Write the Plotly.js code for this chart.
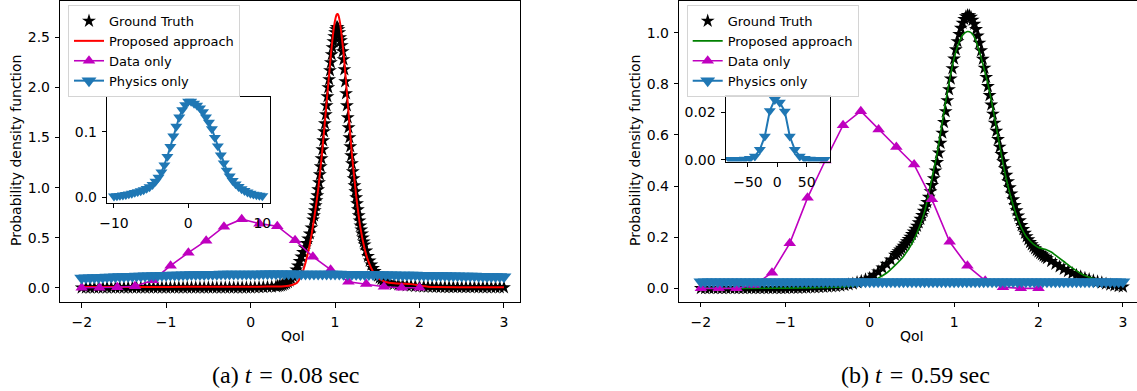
<!DOCTYPE html>
<html>
<head>
<meta charset="utf-8">
<script src="https://cdn.plot.ly/plotly-3.0.1.min.js"></script>
<style>
html,body{margin:0;padding:0;background:#fff;}
#chart{width:1137px;height:391px;}
</style>
</head>
<body>
<div id="chart"></div>
<script>
// ---------------- DATA ----------------
// Panel (a) t = 0.08 sec
var gtAx = [
-2.00,-1.95,-1.90,-1.85,-1.80,-1.75,-1.70,-1.65,-1.60,-1.55,-1.50,-1.45,-1.40,-1.35,-1.30,-1.25,-1.20,-1.15,-1.10,-1.05,
-1.00,-0.95,-0.90,-0.85,-0.80,-0.75,-0.70,-0.65,-0.60,-0.55,-0.50,-0.45,-0.40,-0.35,-0.30,-0.25,-0.20,-0.15,-0.10,-0.05,
0.00,0.05,0.10,0.15,0.20,0.25,0.30,
0.32,0.34,0.36,0.38,0.40,0.42,0.44,0.46,0.48,0.50,0.52,0.54,0.56,0.58,0.60,0.62,0.64,0.66,0.68,0.70,0.72,0.74,
0.75,0.76,0.77,0.78,0.79,0.80,0.81,0.82,0.83,0.84,0.85,0.86,0.87,0.88,0.89,0.90,0.91,0.92,0.93,0.94,
0.95,0.96,0.97,0.98,0.99,1.00,1.01,1.02,1.03,1.04,1.05,1.06,1.07,1.08,1.09,1.10,1.11,1.12,1.13,1.14,
1.15,1.16,1.17,1.18,1.19,1.20,1.21,1.22,1.23,1.24,1.25,1.26,1.27,1.28,1.29,1.30,1.31,1.32,1.33,1.34,1.35,
1.37,1.39,1.41,1.43,1.45,1.47,1.49,1.51,1.53,1.55,1.57,1.59,1.61,
1.65,1.70,1.75,1.80,1.85,1.90,1.95,2.00,2.05,2.10,2.15,2.20,2.25,2.30,2.35,2.40,2.45,2.50,2.55,2.60,
2.65,2.70,2.75,2.80,2.85,2.90,2.95,3.00];
var gtAy = [
0,0,0,0,0,0,0,0,0,0,0,0,0,0,0,0,0,0,0,0,
0,0,0,0,0,0,0,0,0,0,0,0,0,0,0,0,0,0,0,0,
0,0.002,0.003,0.005,0.007,0.009,0.012,
0.015,0.018,0.022,0.027,0.035,0.044,0.055,0.070,0.090,0.115,0.145,0.180,0.220,0.265,0.310,0.355,0.400,0.445,0.490,0.540,0.600,0.680,
0.72,0.77,0.82,0.87,0.92,0.98,1.05,1.13,1.21,1.29,1.38,1.47,1.56,1.64,1.73,1.82,1.91,2.00,2.08,2.17,
2.25,2.33,2.40,2.46,2.51,2.55,2.58,2.60,2.60,2.58,2.55,2.50,2.47,2.42,2.36,2.28,2.18,2.06,1.94,1.82,
1.70,1.60,1.50,1.41,1.32,1.24,1.16,1.09,1.02,0.96,0.90,0.84,0.78,0.72,0.67,0.62,0.58,0.54,0.50,0.46,0.43,
0.37,0.315,0.27,0.23,0.195,0.165,0.14,0.118,0.10,0.085,0.072,0.062,0.054,
0.045,0.037,0.031,0.026,0.022,0.018,0.015,0.012,0.010,0.008,0.007,0.006,0.005,0.005,0.004,0.004,0.004,0.003,0.003,0.003,
0.003,0.002,0.002,0.002,0.002,0.002,0.002,0.002];

var propAx = [-2,-1.5,-1,-0.5,0,0.2,0.3,0.4,0.45,0.5,0.55,0.6,0.65,0.7,0.75,0.8,0.85,0.9,0.95,0.98,
1.0,1.02,1.03,1.04,1.06,1.08,1.1,1.15,1.2,1.25,1.3,1.35,1.4,1.45,1.5,1.55,1.6,1.7,1.8,1.9,2.0,2.1,2.2,2.5,3.0];
var propAy = [0.008,0.008,0.008,0.009,0.01,0.011,0.012,0.015,0.02,0.03,0.05,0.12,0.25,0.43,0.68,0.98,1.38,1.85,2.32,2.56,
2.67,2.73,2.735,2.72,2.64,2.5,2.35,1.85,1.33,0.92,0.6,0.39,0.25,0.16,0.105,0.075,0.058,0.045,0.04,0.036,0.022,0.01,0.006,0.005,0.005];

// Data only: 20 points evenly spaced from -2 to 2
var dataAy = [0.0,0.0,0.005,0.015,0.075,0.22,0.35,0.47,0.61,0.685,0.64,0.615,0.475,0.31,0.18,0.06,0.037,0.01,0.0,0.0];

// Physics only (main panel): -2 to 3, step 0.05
var physAy = [
0.097,0.099,0.100,0.102,0.103,0.105,0.106,0.108,0.109,0.111,0.112,0.114,0.115,0.116,0.118,0.119,0.120,0.121,0.123,0.124,0.125,
0.126,0.127,0.128,0.129,0.130,0.131,0.132,0.133,0.133,0.134,0.135,0.135,0.136,0.136,0.137,0.137,0.137,0.138,0.138,0.138,
0.138,0.138,0.139,0.139,0.139,0.139,0.139,0.139,0.139,0.139,0.138,0.138,0.138,0.138,0.138,0.137,0.137,0.137,0.136,0.136,
0.136,0.135,0.135,0.134,0.134,0.133,0.133,0.132,0.132,0.131,
0.131,0.130,0.130,0.129,0.128,0.128,0.127,0.126,0.126,0.125,0.124,0.124,0.123,0.122,0.122,0.121,0.120,0.119,0.119,0.118,
0.117,0.116,0.116,0.115,0.114,0.113,0.113,0.112,0.111,0.110];

// Physics only (inset a): -10 to 10, step 0.4
var physInsetAy = [
0.0015,0.0018,0.0024,0.0030,0.0037,0.0046,0.0057,0.0069,0.0082,0.0095,
0.011,0.013,0.0155,0.019,0.024,0.030,0.038,0.049,0.062,0.077,
0.093,0.108,0.122,0.133,0.141,0.146,0.146,0.143,0.140,0.136,
0.130,0.122,0.114,0.104,0.091,0.078,0.064,0.052,0.041,0.032,
0.025,0.020,0.016,0.0125,0.0098,0.0075,0.0057,0.0043,0.0033,0.0025,0.0019];

// Panel (b) t = 0.59 sec
var gtBx = [
-2.00,-1.95,-1.90,-1.85,-1.80,-1.75,-1.70,-1.65,-1.60,-1.55,-1.50,-1.45,-1.40,-1.35,-1.30,-1.25,-1.20,-1.15,-1.10,-1.05,
-1.00,-0.95,-0.90,-0.85,-0.80,-0.75,-0.70,-0.65,-0.60,-0.55,-0.50,-0.45,-0.40,-0.35,-0.30,-0.25,-0.20,-0.15,-0.10,-0.05,
0.00,0.05,0.10,0.15,0.20,0.25,0.30,
0.32,0.34,0.36,0.38,0.40,0.42,0.44,0.46,0.48,0.50,0.52,0.54,0.56,0.58,0.60,0.62,0.64,0.66,0.68,0.70,
0.72,0.74,0.76,0.78,0.80,0.82,0.84,0.86,0.88,0.90,0.92,0.94,0.96,0.98,1.00,1.02,1.04,1.06,1.08,1.10,
1.12,1.14,1.16,1.18,1.20,1.22,1.24,1.26,1.28,1.30,1.32,1.34,1.36,1.38,1.40,1.42,1.44,1.46,1.48,1.50,
1.52,1.54,1.56,1.58,1.60,1.62,1.64,1.66,1.68,1.70,1.72,1.74,1.76,1.78,1.80,1.82,1.84,1.86,1.88,1.90,
1.92,1.94,1.96,1.98,2.00,2.02,2.04,2.06,2.08,2.10,
2.15,2.20,2.25,2.30,2.35,2.40,2.45,2.50,2.55,2.60,2.65,2.70,2.75,2.80,2.85,2.90,2.95,3.00];
var gtBy = [
0,0,0,0,0,0,0,0,0,0,0,0,0,0,0,0,0,0,0,0,
0,0.001,0.001,0.001,0.002,0.002,0.003,0.003,0.004,0.005,0.006,0.007,0.008,0.010,0.012,0.015,0.018,0.023,0.028,0.034,
0.040,0.052,0.065,0.080,0.095,0.112,0.130,
0.137,0.144,0.151,0.158,0.166,0.174,0.183,0.192,0.201,0.211,0.221,0.232,0.244,0.257,0.271,0.286,0.302,0.319,0.337,0.357,
0.379,0.403,0.430,0.460,0.493,0.530,0.568,0.608,0.650,0.692,0.735,0.778,0.820,0.860,0.898,0.934,0.966,0.994,1.018,1.038,
1.053,1.063,1.068,1.067,1.061,1.050,1.034,1.013,0.988,0.960,0.930,0.897,0.862,0.826,0.790,0.755,0.718,0.682,0.647,0.615,
0.583,0.553,0.524,0.496,0.469,0.443,0.418,0.394,0.370,0.347,0.325,0.304,0.284,0.265,0.247,0.231,0.216,0.203,0.191,0.180,
0.171,0.163,0.156,0.149,0.143,0.137,0.132,0.127,0.122,0.117,
0.106,0.095,0.085,0.075,0.067,0.059,0.052,0.046,0.040,0.035,0.030,0.026,0.022,0.018,0.014,0.011,0.008,0.006];

var propBx = [-2,-1.5,-1,-0.5,-0.3,-0.1,0,0.1,0.2,0.3,0.4,0.5,0.6,0.65,0.7,0.75,0.8,0.85,0.9,0.95,
1.0,1.05,1.1,1.15,1.2,1.25,1.3,1.35,1.4,1.45,1.5,1.55,1.6,1.65,1.7,1.75,1.8,1.85,1.9,1.95,
2.0,2.05,2.1,2.15,2.2,2.3,2.4,2.5,2.6,2.7,2.8,2.9,3.0];
var propBy = [0.0,0.0,0.001,0.003,0.006,0.015,0.025,0.04,0.06,0.09,0.125,0.175,0.25,0.3,0.37,0.45,0.53,0.63,0.73,0.82,
0.9,0.955,0.99,1.004,1.0,0.975,0.925,0.865,0.8,0.72,0.63,0.54,0.455,0.385,0.325,0.275,0.235,0.205,0.185,0.17,
0.16,0.155,0.15,0.142,0.13,0.105,0.08,0.058,0.043,0.035,0.03,0.027,0.025];

var dataBy = [0.0,0.0,0.0,0.013,0.061,0.176,0.354,0.50,0.638,0.693,0.621,0.553,0.484,0.348,0.182,0.088,0.03,0.004,0.0,0.0];

var physBy = [
0.0258,0.0258,0.0258,0.0258,0.0259,0.0259,0.0259,0.0259,0.0259,0.0259,0.0260,0.0260,0.0260,0.0260,0.0260,0.0260,0.0260,0.0260,0.0260,0.0261,0.0261,
0.0261,0.0261,0.0261,0.0261,0.0261,0.0261,0.0261,0.0261,0.0261,0.0261,0.0261,0.0261,0.0261,0.0261,0.0261,0.0261,0.0261,0.0261,0.0261,0.0261,
0.0261,0.0261,0.0261,0.0261,0.0261,0.0261,0.0261,0.0261,0.0261,0.0261,0.0261,0.0261,0.0261,0.0261,0.0261,0.0261,0.0261,0.0261,0.0261,0.0261,
0.0261,0.0260,0.0260,0.0260,0.0260,0.0260,0.0260,0.0260,0.0260,0.0260,
0.0260,0.0260,0.0260,0.0260,0.0260,0.0260,0.0260,0.0260,0.0260,0.0259,0.0259,0.0259,0.0259,0.0259,0.0259,0.0259,0.0259,0.0259,0.0259,0.0259,
0.0259,0.0259,0.0258,0.0258,0.0258,0.0258,0.0258,0.0258,0.0258,0.0258];

// Physics only (inset b): 20 points from -80.75 to 80.75, step 8.5
var physInsetBy = [0,0,0,0.0001,0.0004,0.0014,0.0042,0.0098,0.0205,0.0252,
0.0240,0.0203,0.0098,0.0042,0.0014,0.0004,0.0001,0,0,0];

var seriesNames = ['Ground Truth','Proposed approach','Data only','Physics only'];
var captions = ['(a) <i>t</i>&#8202; = &#8202;0.08 sec','(b) <i>t</i>&#8202; = &#8202;0.59 sec'];
var yTitle = 'Probability density function';
var xTitle = 'QoI';

// ---------------- STYLE / LAYOUT ----------------
var W = 1137, H = 391;
function px(x){ return x / W; }
function py(y){ return 1 - y / H; }
var FONT = 'DejaVu Sans, Verdana, sans-serif';
var FS = 14;
var C_BLUE = '#1f77b4', C_MAG = '#bf00bf', C_RED = '#ff0000', C_GREEN = '#008000';

function axis(dom, range, extra){
  return Object.assign({
    domain: dom, range: range, autorange: false,
    showline: true, mirror: true, linecolor: '#000', linewidth: 1,
    ticks: 'outside', ticklen: 4.5, tickwidth: 1, tickcolor: '#000',
    showgrid: false, zeroline: false, fixedrange: true,
    tickfont: {family: FONT, size: FS, color: '#000'}
  }, extra || {});
}

var GT_SIZE = 10.5, PHYS_SIZE = 13, DATA_SIZE = 11;

var traces = [
  // panel a
  {x: gtAx, y: gtAy, mode: 'markers', name: seriesNames[0], xaxis: 'x', yaxis: 'y', legend: 'legend',
   marker: {symbol: 'star', size: GT_SIZE, color: '#000'}},
  {x: propAx, y: propAy, mode: 'lines', name: seriesNames[1], xaxis: 'x', yaxis: 'y', legend: 'legend',
   line: {color: C_RED, width: 2, shape: 'spline', smoothing: 0.6}},
  {x0: -2, dx: 4/19, y: dataAy, mode: 'lines+markers', name: seriesNames[2], xaxis: 'x', yaxis: 'y', legend: 'legend',
   line: {color: C_MAG, width: 1.6}, marker: {symbol: 'triangle-up', size: DATA_SIZE, color: C_MAG}},
  {x0: -2, dx: 0.05, y: physAy, mode: 'lines+markers', name: seriesNames[3], xaxis: 'x', yaxis: 'y', legend: 'legend',
   line: {color: C_BLUE, width: 2}, marker: {symbol: 'triangle-down', size: PHYS_SIZE, color: C_BLUE}},
  // inset a
  {x0: -10, dx: 0.4, y: physInsetAy, mode: 'lines+markers', showlegend: false, xaxis: 'x3', yaxis: 'y3',
   line: {color: C_BLUE, width: 2}, marker: {symbol: 'triangle-down', size: 10.5, color: C_BLUE}},
  // panel b
  {x: gtBx, y: gtBy, mode: 'markers', name: seriesNames[0], xaxis: 'x2', yaxis: 'y2', legend: 'legend2',
   marker: {symbol: 'star', size: GT_SIZE, color: '#000'}},
  {x: propBx, y: propBy, mode: 'lines', name: seriesNames[1], xaxis: 'x2', yaxis: 'y2', legend: 'legend2',
   line: {color: C_GREEN, width: 1.6, shape: 'spline', smoothing: 0.6}},
  {x0: -2, dx: 4/19, y: dataBy, mode: 'lines+markers', name: seriesNames[2], xaxis: 'x2', yaxis: 'y2', legend: 'legend2',
   line: {color: C_MAG, width: 1.6}, marker: {symbol: 'triangle-up', size: DATA_SIZE, color: C_MAG}},
  {x0: -2, dx: 0.05, y: physBy, mode: 'lines+markers', name: seriesNames[3], xaxis: 'x2', yaxis: 'y2', legend: 'legend2',
   line: {color: C_BLUE, width: 2}, marker: {symbol: 'triangle-down', size: PHYS_SIZE, color: C_BLUE}},
  // inset b
  {x0: -80.75, dx: 8.5, y: physInsetBy, mode: 'lines+markers', showlegend: false, xaxis: 'x4', yaxis: 'y4',
   line: {color: C_BLUE, width: 2}, marker: {symbol: 'triangle-down', size: 10.5, color: C_BLUE}}
];

var legendBase = {
  xanchor: 'left', yanchor: 'top', y: py(5),
  bgcolor: 'rgba(255,255,255,0.85)', bordercolor: '#d4d4d4', borderwidth: 1,
  font: {family: FONT, size: 13, color: '#000'}, tracegroupgap: 0, itemwidth: 30
};

var layout = {
  width: W, height: H,
  margin: {l: 0, r: 0, t: 0, b: 0, pad: 0},
  paper_bgcolor: '#fff', plot_bgcolor: '#fff',
  showlegend: true,
  xaxis: axis([px(60.3), px(519.5)], [-2.2535, 3.184], {anchor: 'y', dtick: 1, tick0: 0, ticklabelstandoff: 3}),
  yaxis: axis([py(302), py(0.5)], [-0.1426, 2.869], {anchor: 'x', dtick: 0.5, tick0: 0, tickformat: '.1f', ticklabelstandoff: 2}),
  xaxis2: axis([px(679.3), 1], [-2.256, 3.167], {anchor: 'y2', dtick: 1, tick0: 0, ticklabelstandoff: 3}),
  yaxis2: axis([py(301.7), py(0.5)], [-0.0523, 1.126], {anchor: 'x2', dtick: 0.2, tick0: 0, tickformat: '.1f', ticklabelstandoff: 2}),
  xaxis3: axis([px(107.3), px(270.2)], [-10.9, 11.06], {anchor: 'y3', dtick: 10, tick0: 0, ticklabelstandoff: 3}),
  yaxis3: axis([py(202.5), py(96.7)], [-0.0082, 0.1533], {anchor: 'x3', dtick: 0.1, tick0: 0, tickformat: '.1f', ticklabelstandoff: 2}),
  xaxis4: axis([px(726), px(830)], [-87.4, 89.8], {anchor: 'y4', dtick: 50, tick0: 0, ticklabelstandoff: 3}),
  yaxis4: axis([py(161.5), py(96.3)], [-0.0008, 0.0266], {anchor: 'x4', dtick: 0.02, tick0: 0, tickformat: '.2f', ticklabelstandoff: 2}),
  legend: Object.assign({}, legendBase, {x: px(68)}),
  legend2: Object.assign({}, legendBase, {x: px(686.7)}),
  annotations: [
    {text: yTitle, textangle: -90, x: px(16), y: py(151), xref: 'paper', yref: 'paper', showarrow: false,
     xanchor: 'center', yanchor: 'middle', font: {family: FONT, size: FS, color: '#000'}},
    {text: yTitle, textangle: -90, x: px(635), y: py(151), xref: 'paper', yref: 'paper', showarrow: false,
     xanchor: 'center', yanchor: 'middle', font: {family: FONT, size: FS, color: '#000'}},
    {text: xTitle, x: px(293), y: py(336), xref: 'paper', yref: 'paper', showarrow: false,
     xanchor: 'center', yanchor: 'middle', font: {family: FONT, size: FS, color: '#000'}},
    {text: xTitle, x: px(912), y: py(336), xref: 'paper', yref: 'paper', showarrow: false,
     xanchor: 'center', yanchor: 'middle', font: {family: FONT, size: FS, color: '#000'}},
    {text: captions[0], x: px(286), y: py(375), xref: 'paper', yref: 'paper', showarrow: false,
     xanchor: 'center', yanchor: 'middle', font: {family: 'Liberation Serif, Times New Roman, serif', size: 24, color: '#000'}},
    {text: captions[1], x: px(915), y: py(375), xref: 'paper', yref: 'paper', showarrow: false,
     xanchor: 'center', yanchor: 'middle', font: {family: 'Liberation Serif, Times New Roman, serif', size: 24, color: '#000'}}
  ]
};

Plotly.newPlot('chart', traces, layout, {staticPlot: true, displayModeBar: false});
</script>
</body>
</html>
